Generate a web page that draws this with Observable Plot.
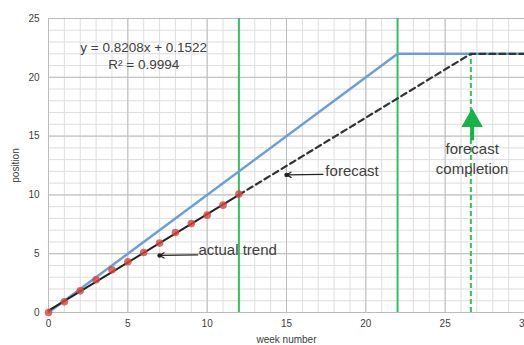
<!DOCTYPE html>
<html>
<head>
<meta charset="utf-8">
<script src="https://cdn.jsdelivr.net/npm/d3@7"></script>
<script src="https://cdn.jsdelivr.net/npm/@observablehq/plot@0.6"></script>
<style>
  html, body { margin: 0; padding: 0; background: #fff; }
  svg { display: block; }
</style>
</head>
<body>
<div id="chart"></div>
<script>
// ---- data ----
const weeks = [0, 1, 2, 3, 4, 5, 6, 7, 8, 9, 10, 11, 12];
const positions = [0, 0.91, 1.84, 2.78, 3.63, 4.31, 5.1, 5.9, 6.8, 7.57, 8.28, 9.13, 10.07];

const planWeeks = [0, 22, 30];
const planPositions = [0, 22, 22];

const trendSlope = 0.8208;
const trendIntercept = 0.1522;
const trendWeeks = [0, 12];
const forecastWeeks = [12, 26.62, 30];
const forecastPositions = [10.0018, 22, 22];

const milestoneWeeks = [12, 22];
const completionWeek = 26.62;
const completionPosition = 22;

const xTicks = [0, 5, 10, 15, 20, 25, 30];
const yTicks = [0, 5, 10, 15, 20, 25];
const xMinor = d3.range(0, 31);
const yMinor = d3.range(0, 26);

const equationLines = ["y = 0.8208x + 0.1522", "R² = 0.9994"];
const equationPos = [{x: 6.0, y: 22.5}, {x: 6.0, y: 21.1}];

const notes = [
  {label: "forecast", x: 17.45, y: 12.05, ax1: 17.3, ay1: 11.75, ax2: 15.0, ay2: 11.7},
  {label: "actual trend", x: 9.45, y: 5.3, ax1: 9.4, ay1: 4.9, ax2: 7.0, ay2: 4.85}
];
const completionLabel = ["forecast", "completion"];
const completionLabelPos = [{x: 26.7, y: 13.85}, {x: 26.7, y: 12.2}];
const upArrow = {x: 26.7, yBase: 14.6, yTip: 16.3};

// ---- derived tables ----
const points = weeks.map((w, i) => ({week: w, position: positions[i]}));
const plan = planWeeks.map((w, i) => ({week: w, position: planPositions[i]}));
const trend = trendWeeks.map(w => ({week: w, position: trendSlope * w + trendIntercept}));
const forecast = forecastWeeks.map((w, i) => ({week: w, position: forecastPositions[i]}));
const eq = equationLines.map((t, i) => ({text: t, ...equationPos[i]}));
const comp = completionLabel.map((t, i) => ({text: t, ...completionLabelPos[i]}));

const green = "#2ec45a";
const textColor = "#404040";

const chart = Plot.plot({
  width: 524,
  height: 345,
  marginLeft: 48,
  marginRight: 0,
  marginTop: 18,
  marginBottom: 33,
  style: {fontFamily: "Liberation Sans, Arial, sans-serif", fontSize: "10px", color: textColor, background: "#fff"},
  x: {domain: [0, 30]},
  y: {domain: [0, 25]},
  marks: [
    // minor grid
    Plot.ruleX(xMinor, {stroke: "#dedede", strokeWidth: 1}),
    Plot.ruleY(yMinor, {stroke: "#dedede", strokeWidth: 1}),
    // major grid
    Plot.ruleX(xTicks, {stroke: "#bcbcbc", strokeWidth: 1}),
    Plot.ruleY(yTicks, {stroke: "#bcbcbc", strokeWidth: 1}),
    Plot.axisX({ticks: xTicks, tickSize: 0, tickPadding: 7, fontSize: 10, label: "week number", labelArrow: "none", labelAnchor: "center", labelOffset: 30}),
    Plot.axisY({ticks: yTicks, tickSize: 0, tickPadding: 9, label: "position", labelArrow: "none", labelAnchor: "center", labelOffset: 37}),
    // milestone verticals
    Plot.ruleX(milestoneWeeks, {y1: 0, y2: 25, stroke: green, strokeWidth: 2}),
    Plot.ruleX([completionWeek], {y1: 0, y2: completionPosition, stroke: green, strokeWidth: 2, strokeDasharray: "5,3"}),
    // plan line
    Plot.line(plan, {x: "week", y: "position", stroke: "#6a9fd8", strokeWidth: 2.5}),
    // trend line under points
    Plot.line(trend, {x: "week", y: "position", stroke: "#222", strokeWidth: 2}),
    // forecast dashed
    Plot.line(forecast, {x: "week", y: "position", stroke: "#333", strokeWidth: 2.2, strokeDasharray: "6,4"}),
    // actual points
    Plot.dot(points, {x: "week", y: "position", r: 3.8, fill: "#d9463b", fillOpacity: 0.8, stroke: "none"}),
    // equation
    Plot.text(eq, {x: "x", y: "y", text: "text", fontSize: 13.5, fill: textColor}),
    // annotations
    Plot.arrow(notes, {x1: "ax1", y1: "ay1", x2: "ax2", y2: "ay2", stroke: "#222", strokeWidth: 1.3, headLength: 6}),
    Plot.dot(notes, {x: "ax2", y: "ay2", r: 2.2, fill: "#222"}),
    Plot.text(notes, {x: "x", y: "y", text: "label", textAnchor: "start", fontSize: 15, fill: textColor}),
    Plot.text(comp, {x: "x", y: "y", text: "text", fontSize: 15, fill: textColor}),
    Plot.ruleX([upArrow], {x: "x", y1: "yBase", y2: "yTip", stroke: "#16b24a", strokeWidth: 4}),
    Plot.dot([upArrow], {x: "x", y: "yTip", symbol: "triangle", r: 8, fill: "#16b24a"})
  ]
});
document.getElementById("chart").appendChild(chart);
</script>
</body>
</html>
